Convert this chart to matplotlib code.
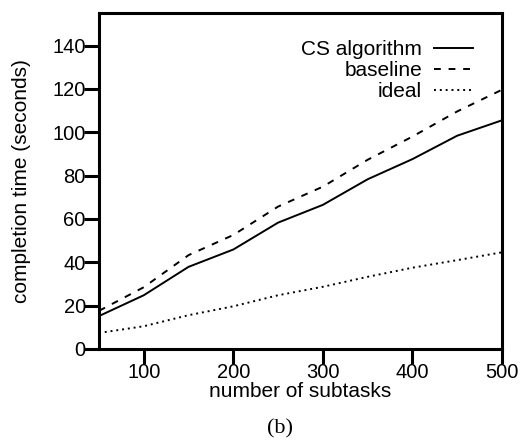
import matplotlib
matplotlib.use("Agg")
import matplotlib.pyplot as plt

# Completion time vs number of subtasks
subtasks = [50, 100, 150, 200, 250, 300, 350, 400, 450, 500]
cs_algorithm = [15.2, 24.8, 37.9, 45.9, 58.3, 66.5, 78.3, 87.6, 98.4, 105.5]
baseline = [17.6, 28.5, 43.3, 52.6, 65.7, 74.9, 87.3, 98.0, 109.6, 119.6]
ideal = [7.4, 10.5, 15.6, 19.7, 24.8, 28.7, 33.3, 37.5, 41.0, 44.6]

xticks = [100, 200, 300, 400, 500]
yticks = [0, 20, 40, 60, 80, 100, 120, 140]

plt.rcParams['font.family'] = ['Liberation Sans', 'DejaVu Sans']

fig = plt.figure(figsize=(5.24, 4.41), dpi=100)
ax = fig.add_axes([99 / 524, 1 - 349 / 441, (502 - 99) / 524, (349 - 13) / 441])

ax.plot(subtasks, cs_algorithm, color='black', lw=1.4, label='CS algorithm')
ax.plot(subtasks, baseline, color='black', lw=1.4, linestyle=(0, (3.5, 4)), label='baseline')
ax.plot(subtasks, ideal, color='black', lw=1.4, linestyle=(0, (1.0, 2.0)), label='ideal')

ax.set_xlim(50, 500)
ax.set_ylim(0, 155)
ax.set_xticks(xticks)
ax.set_yticks(yticks)
ax.tick_params(axis='both', direction='out', width=2.2, labelsize=14.5)
ax.tick_params(axis='y', length=10.5, pad=-1)
ax.tick_params(axis='x', length=11, pad=-1)
for s in ax.spines.values():
    s.set_linewidth(2.2)

ax.set_xlabel('number of subtasks', fontsize=15, labelpad=0)
ax.set_ylabel('completion time (seconds)', fontsize=15, labelpad=15)

leg = ax.legend(loc='upper right', bbox_to_anchor=((473 - 99) / 403, (349 - 40) / 336),
                frameon=False, markerfirst=False, fontsize=15, handlelength=1.85,
                handletextpad=0.6, labelspacing=0.1, borderpad=0, borderaxespad=0)
for t in leg.get_texts():
    t.set_ha('right')

fig.text(280 / 524, 1 - 429 / 441, '(b)', ha='center', va='center',
         fontsize=16, family=['Liberation Serif', 'DejaVu Serif'])

fig.savefig('out.png', dpi=100)
